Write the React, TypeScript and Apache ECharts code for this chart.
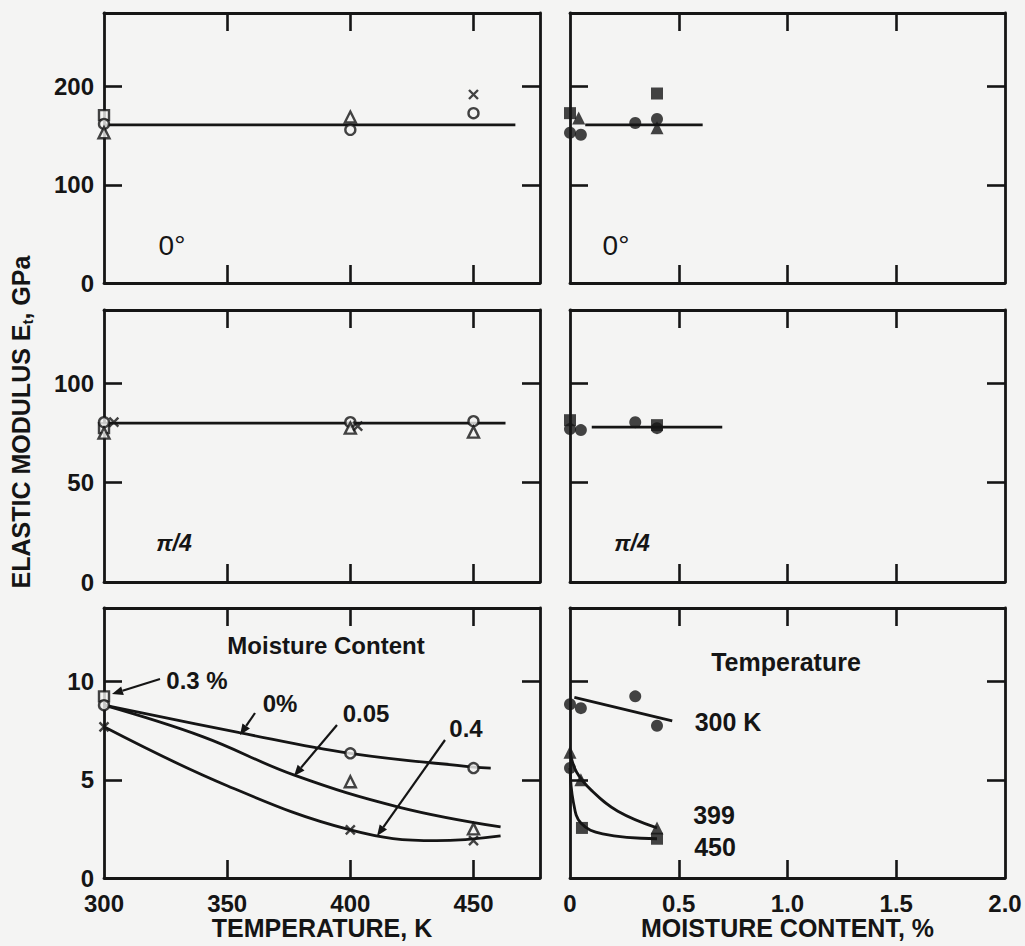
import React, { useEffect, useRef } from 'react';
import * as echarts from 'echarts';

// ---------- tick values ----------
const tempLabels = [300, 350, 400, 450];
const tempInnerTicks = [350, 400, 450];
const moistLabels = [0, 0.5, 1.0, 1.5, 2.0];
const moistInnerTicks = [0.5, 1.0, 1.5];
const topYLabels = [0, 100, 200];
const topYTicks = [100, 200];
const midYLabels = [0, 50, 100];
const midYTicks = [50, 100];
const botYLabels = [0, 5, 10];
const botYTicks = [5, 10];

// ---------- row 1 : 0 deg ----------
const t0Circle = [[300, 162], [400, 156], [450, 173]];
const t0Square = [[300, 171]];
const t0Triangle = [[300, 153], [400, 169]];
const t0Cross = [[450, 192]];
const t0Fit = [[300, 161], [467, 161]];

const m0Circle = [[0, 153], [0.05, 151], [0.3, 163], [0.4, 167]];
const m0Square = [[0, 173], [0.4, 193]];
const m0Triangle = [[0.04, 168], [0.4, 158]];
const m0Fit = [[0.07, 161], [0.61, 161]];

// ---------- row 2 : pi/4 ----------
const t45Circle = [[300, 80.5], [400, 80.5], [450, 81]];
const t45Square = [[300, 77.5]];
const t45Triangle = [[300, 75], [400, 77.5], [450, 75.5]];
const t45Cross = [[304, 80.5], [403, 78.5]];
const t45Fit = [[300, 80], [463, 80]];

const m45Circle = [[0, 77], [0.05, 76.5], [0.3, 80.5], [0.4, 77.5]];
const m45Square = [[0, 81.5], [0.4, 79]];
const m45Fit = [[0.1, 78], [0.7, 78]];

// ---------- row 3 : transverse ----------
const tTCircle = [[300, 8.8], [400, 6.35], [450, 5.6]];
const tTSquare = [[300, 9.25]];
const tTTriangle = [[400, 4.9], [450, 2.5]];
const tTCross = [[300, 7.7], [400, 2.45], [450, 1.9]];
const curve0 = [[300, 8.8], [355, 7.4], [400, 6.35], [450, 5.65], [457, 5.6]];
const curve005 = [[300, 8.8], [340, 7.2], [377, 5.25], [420, 3.6], [461, 2.6]];
const curve04 = [[300, 7.7], [350, 4.7], [400, 2.45], [435, 1.9], [461, 2.15]];

const mTCircle = [[0, 8.85], [0.05, 8.65], [0.3, 9.25], [0.4, 7.75], [0, 5.6]];
const mTTriangle = [[0, 6.4], [0.05, 5.0], [0.4, 2.55]];
const mTSquare = [[0.055, 2.55], [0.4, 2.0]];
const fit300 = [[0.02, 9.2], [0.47, 8.0]];
const fit399 = [[0, 6.4], [0.03, 5.4], [0.1, 4.45], [0.22, 3.4], [0.4, 2.55]];
const fit450 = [[0, 5.6], [0.015, 3.9], [0.05, 2.8], [0.15, 2.25], [0.4, 2.0]];

const INK = '#151515';
const BG = '#f4f4f3';
const FONT = '"Liberation Sans", Arial, sans-serif';

function arrow(x1: number, y1: number, x2: number, y2: number) {
  const ang = Math.atan2(y2 - y1, x2 - x1);
  const L = 11, W = 4.5;
  const bx = x2 - L * Math.cos(ang), by = y2 - L * Math.sin(ang);
  const px = -Math.sin(ang) * W, py = Math.cos(ang) * W;
  return [
    { type: 'line', shape: { x1, y1, x2: bx, y2: by }, style: { stroke: INK, lineWidth: 2.2 } },
    { type: 'polygon', shape: { points: [[x2, y2], [bx + px, by + py], [bx - px, by - py]] }, style: { fill: INK } },
  ];
}

function label(text: string, x: number, y: number, size: number, extra: any = {}) {
  return { type: 'text', x, y, style: { text, fill: INK, font: `${extra.style || 'normal'} ${extra.weight || 'bold'} ${size}px ${FONT}`, align: 'center', verticalAlign: 'middle' } };
}

export default function App() {
  const ref = useRef<HTMLDivElement>(null);
  useEffect(() => {
    if (!ref.current) return;
    const chart = echarts.init(ref.current, null, { renderer: 'svg' });

    const grids = [
      { left: 104, top: 13, width: 436, height: 270 },
      { left: 570, top: 13, width: 435, height: 270 },
      { left: 104, top: 310, width: 436, height: 272 },
      { left: 570, top: 310, width: 435, height: 272 },
      { left: 104, top: 608, width: 436, height: 270 },
      { left: 570, top: 608, width: 435, height: 270 },
    ];
    const yRanges = [[0, 275], [0, 137], [0, 13.75]];
    const yLabelSets = [topYLabels, midYLabels, botYLabels];
    const yTickSets = [topYTicks, midYTicks, botYTicks];

    const line = { show: true, onZero: false, lineStyle: { color: INK, width: 2.8 } };
    const tick = (vals: number[]) => ({ show: true, inside: true, length: 18, customValues: vals, lineStyle: { color: INK, width: 2.6 } });
    const lbl = { color: INK, fontSize: 24, fontWeight: 'bold', fontFamily: FONT };

    const xAxis: any[] = [];
    const yAxis: any[] = [];
    grids.forEach((g, i) => {
      const row = Math.floor(i / 2);
      const col = i % 2;
      const isTemp = col === 0;
      const xmin = isTemp ? 300 : 0;
      const xmax = isTemp ? 477 : 2.0;
      const inner = isTemp ? tempInnerTicks : moistInnerTicks;
      const bottomRow = row === 2;
      xAxis.push({
        type: 'value', gridIndex: i, position: 'bottom', min: xmin, max: xmax,
        axisLine: line, axisTick: tick(inner), splitLine: { show: false },
        axisLabel: bottomRow ? {
          show: true, ...lbl, margin: 13, customValues: isTemp ? tempLabels : moistLabels,
          formatter: (v: number) => isTemp ? String(v) : (v === 0 ? '0' : v.toFixed(1)),
        } : { show: false },
        name: bottomRow ? (isTemp ? 'TEMPERATURE, K' : 'MOISTURE CONTENT, %') : '',
        nameLocation: 'middle', nameGap: 37,
        nameTextStyle: { color: INK, fontSize: 25, fontWeight: 'bold', fontFamily: FONT },
      });
      xAxis.push({
        type: 'value', gridIndex: i, position: 'top', min: xmin, max: xmax,
        axisLine: line, axisTick: tick(inner), axisLabel: { show: false }, splitLine: { show: false },
      });
      yAxis.push({
        type: 'value', gridIndex: i, position: 'left', min: yRanges[row][0], max: yRanges[row][1],
        axisLine: line, axisTick: tick(yTickSets[row]), splitLine: { show: false },
        axisLabel: col === 0 ? { show: true, ...lbl, margin: 10, customValues: yLabelSets[row] } : { show: false },
      });
      yAxis.push({
        type: 'value', gridIndex: i, position: 'right', min: yRanges[row][0], max: yRanges[row][1],
        axisLine: line, axisTick: tick(yTickSets[row]), axisLabel: { show: false }, splitLine: { show: false },
      });
    });

    const open = (symbol: string) => ({ symbol, symbolSize: symbol === 'triangle' ? 11 : 10, itemStyle: { color: BG, borderColor: INK, borderWidth: 2.4 } });
    const filled = (symbol: string) => ({ symbol, symbolSize: symbol === 'triangle' ? 13 : 12, itemStyle: { color: INK } });
    const cross = { symbol: 'path://M0,0L10,10M10,0L0,10', symbolSize: 9, itemStyle: { color: 'none', borderColor: INK, borderWidth: 2.4 } };

    const sc = (gi: number, data: number[][], style: any) => ({
      type: 'scatter', xAxisIndex: gi * 2, yAxisIndex: gi * 2, data, z: 5, ...style,
    });
    const ln = (gi: number, data: number[][], smooth = false) => ({
      type: 'line', xAxisIndex: gi * 2, yAxisIndex: gi * 2, data, showSymbol: false, symbol: 'none',
      smooth: smooth ? 0.4 : false, lineStyle: { color: INK, width: 2.8 }, z: 3,
    });

    const series: any[] = [
      ln(0, t0Fit), sc(0, t0Square, open('rect')), sc(0, t0Circle, open('circle')), sc(0, t0Triangle, open('triangle')), sc(0, t0Cross, cross),
      ln(1, m0Fit), sc(1, m0Circle, filled('circle')), sc(1, m0Square, filled('rect')), sc(1, m0Triangle, filled('triangle')),
      ln(2, t45Fit), sc(2, t45Square, open('rect')), sc(2, t45Circle, open('circle')), sc(2, t45Triangle, open('triangle')), sc(2, t45Cross, cross),
      ln(3, m45Fit), sc(3, m45Circle, filled('circle')), sc(3, m45Square, filled('rect')),
      ln(4, curve0, true), ln(4, curve005, true), ln(4, curve04, true),
      sc(4, tTSquare, open('rect')), sc(4, tTCircle, open('circle')), sc(4, tTTriangle, open('triangle')), sc(4, tTCross, cross),
      ln(5, fit300), ln(5, fit399, true), ln(5, fit450, true),
      sc(5, mTCircle, filled('circle')), sc(5, mTTriangle, filled('triangle')), sc(5, mTSquare, filled('rect')),
    ];

    const graphic: any[] = [
      {
        type: 'text', x: 21, y: 422, rotation: Math.PI / 2,
        style: {
          text: '{a|ELASTIC MODULUS E}{s|t}{a|, GPa}', align: 'center', verticalAlign: 'middle',
          rich: {
            a: { fontSize: 25, fontWeight: 'bold', fontFamily: FONT, fill: INK, color: INK },
            s: { fontSize: 15, fontWeight: 'bold', fontFamily: FONT, fill: INK, color: INK, padding: [13, 0, 0, 0] },
          },
        },
      },
      label('0°', 172, 245, 28, { weight: 'normal' }), label('0°', 616, 245, 28, { weight: 'normal' }),
      label('π/4', 174, 543, 23, { style: 'italic' }), label('π/4', 632, 543, 23, { style: 'italic' }),
      label('Moisture Content', 326, 645, 24),
      label('0.3 %', 197, 680, 24), label('0%', 280, 703, 24), label('0.05', 366, 713, 24), label('0.4', 466, 728, 24),
      ...arrow(160, 679, 112, 694), ...arrow(255, 713, 240, 735), ...arrow(337, 725, 294, 776), ...arrow(445, 740, 377, 836),
      label('Temperature', 786, 662, 25),
      label('300 K', 728, 722, 25), label('399', 714, 815, 25), label('450', 715, 847, 25),
    ];

    chart.setOption({
      animation: false,
      backgroundColor: BG,
      grid: grids,
      xAxis, yAxis, series, graphic,
    });
    return () => chart.dispose();
  }, []);
  return <div ref={ref} style={{ position: 'fixed', left: 0, top: 0, width: 1025, height: 946 }} />;
}
